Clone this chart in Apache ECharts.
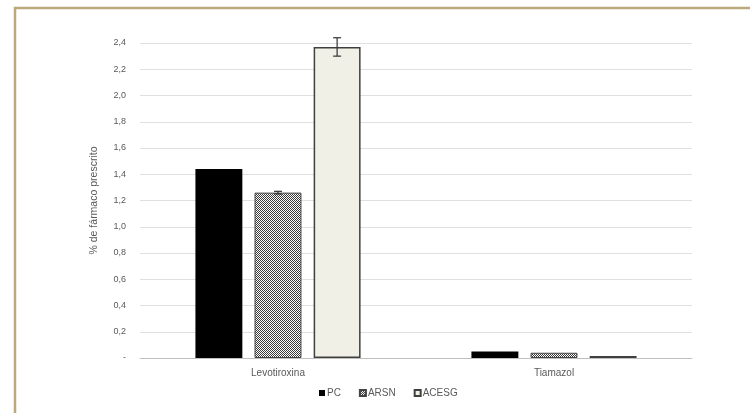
<!DOCTYPE html>
<html>
<head>
<meta charset="utf-8">
<script src="https://cdn.jsdelivr.net/npm/echarts@6/dist/echarts.min.js"></script>
<style>
  html, body { margin: 0; padding: 0; background: #fff; }
  #chart { width: 750px; height: 413px; }
</style>
</head>
<body>
<div id="chart"></div>
<script>
// Drug prescription shares by group
const categories = ['Levotiroxina', 'Tiamazol'];
const seriesNames = ['PC', 'ARSN', 'ACESG'];
const pcValues = [1.44, 0.05];
const arsnValues = [1.26, 0.04];
const acesgValues = [2.37, 0.015];
// symmetric error (± value) per series and category
const pcErrors = [0, 0];
const arsnErrors = [0.01, 0];
const acesgErrors = [0.07, 0];
const yTicks = { min: 0, max: 2.4, step: 0.2 };

// fine checker pattern for the ARSN bars
function checkerPattern() {
  const c = document.createElement('canvas');
  c.width = 2; c.height = 2;
  const ctx = c.getContext('2d');
  ctx.fillStyle = '#ffffff';
  ctx.fillRect(0, 0, 2, 2);
  ctx.fillStyle = '#3a3a3a';
  ctx.fillRect(0, 0, 1, 1);
  ctx.fillRect(1, 1, 1, 1);
  return c;
}

const BAR_W = 0.17;   // fraction of the category band
const BAR_GAP = 0.26; // fraction of bar width

const chart = echarts.init(document.getElementById('chart'), null, { renderer: 'canvas' });

function errorSeries(idx, values, errors) {
  return {
    type: 'custom',
    name: seriesNames[idx] + '_err',
    z: 10,
    silent: true,
    data: values.map((v, i) => [i, v, errors[i]]),
    renderItem: function (params, api) {
      const err = api.value(2);
      if (!err) return null;
      const ci = api.value(0);
      const v = api.value(1);
      const band = api.size([1, 0])[0];
      const w = band * BAR_W;
      const g = w * BAR_GAP;
      const total = 3 * w + 2 * g;
      const center = api.coord([ci, 0])[0];
      const x = center - total / 2 + idx * (w + g) + w / 2;
      const hi = api.coord([ci, v + err])[1];
      const lo = api.coord([ci, v - err])[1];
      const cap = 4;
      const style = { stroke: '#333', lineWidth: 1.2 };
      return {
        type: 'group',
        children: [
          { type: 'line', shape: { x1: x, y1: hi, x2: x, y2: lo }, style },
          { type: 'line', shape: { x1: x - cap, y1: hi, x2: x + cap, y2: hi }, style },
          { type: 'line', shape: { x1: x - cap, y1: lo, x2: x + cap, y2: lo }, style }
        ]
      };
    }
  };
}

const labelColor = '#595959';

chart.setOption({
  backgroundColor: '#ffffff',
  animation: false,
  textStyle: { fontFamily: 'Liberation Sans, Arial, sans-serif' },
  graphic: [
    {
      type: 'rect',
      silent: true,
      shape: { x: 15, y: 8, width: 800, height: 500 },
      style: { fill: 'none', stroke: '#bca97c', lineWidth: 2.5 }
    }
  ],
  grid: { left: 140, right: 58, top: 43, bottom: 55 },
  legend: {
    bottom: 10,
    left: 314,
    itemWidth: 6,
    itemHeight: 6,
    itemGap: 18,
    icon: 'rect',
    data: seriesNames,
    textStyle: { color: labelColor, fontSize: 10, padding: [0, 0, 0, -3] }
  },
  xAxis: {
    type: 'category',
    data: categories,
    axisTick: { show: false },
    axisLine: { lineStyle: { color: '#bfbfbf' } },
    axisLabel: { color: labelColor, fontSize: 10, margin: 10 }
  },
  yAxis: {
    type: 'value',
    min: yTicks.min,
    max: yTicks.max,
    interval: yTicks.step,
    name: '% de fármaco prescrito',
    nameLocation: 'middle',
    nameGap: 40,
    nameTextStyle: { color: labelColor, fontSize: 10.5 },
    axisLine: { show: false },
    axisTick: { show: false },
    splitLine: { lineStyle: { color: '#e0e0e0' } },
    axisLabel: {
      color: labelColor,
      fontSize: 9,
      margin: 14,
      formatter: v => (v === 0 ? '-' : v.toFixed(1).replace('.', ','))
    }
  },
  series: [
    {
      name: 'PC', type: 'bar', data: pcValues,
      barWidth: (BAR_W * 100) + '%', barGap: (BAR_GAP * 100) + '%',
      itemStyle: { color: '#000000' }
    },
    {
      name: 'ARSN', type: 'bar', data: arsnValues,
      barWidth: (BAR_W * 100) + '%',
      itemStyle: {
        color: { image: checkerPattern(), repeat: 'repeat' },
        borderColor: '#444', borderWidth: 1
      }
    },
    {
      name: 'ACESG', type: 'bar', data: acesgValues,
      barWidth: (BAR_W * 100) + '%',
      itemStyle: { color: '#f1f0e7', borderColor: '#404040', borderWidth: 1.5 }
    },
    errorSeries(0, pcValues, pcErrors),
    errorSeries(1, arsnValues, arsnErrors),
    errorSeries(2, acesgValues, acesgErrors)
  ]
});
</script>
</body>
</html>
